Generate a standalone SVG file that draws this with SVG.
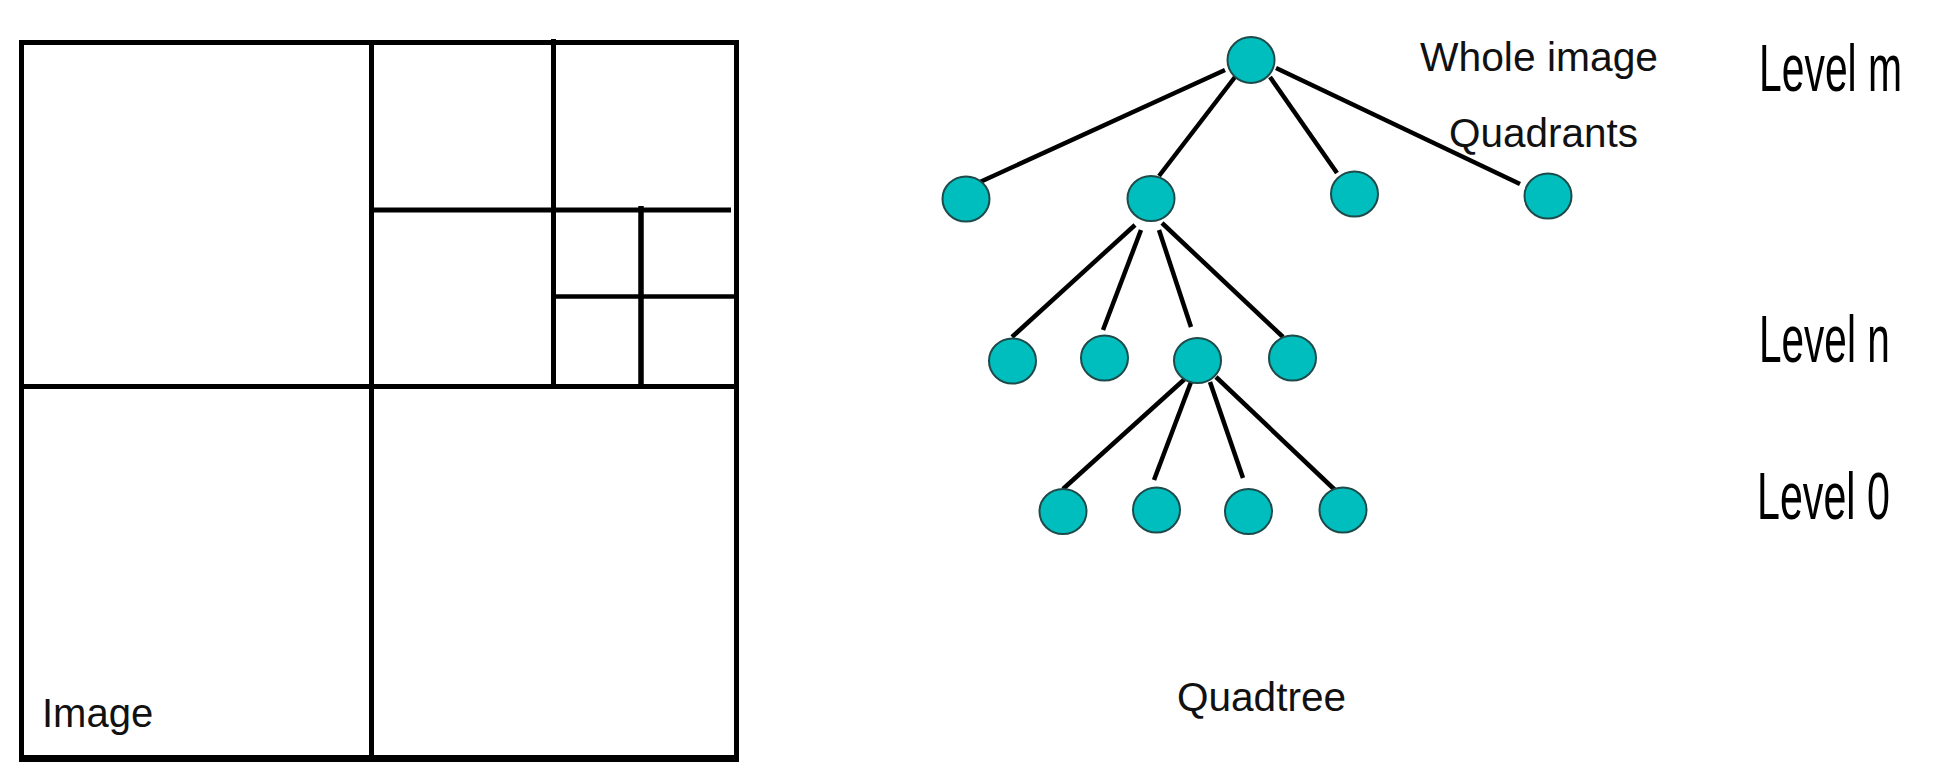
<svg xmlns="http://www.w3.org/2000/svg" width="1939" height="776" viewBox="0 0 1939 776">
<style>
.grid line{stroke:#000;stroke-width:5;stroke-linecap:butt}
.edge{stroke:#000;stroke-width:4.5;stroke-linecap:butt}
.node ellipse{fill:#00BEBE;stroke:#1E4A4A;stroke-width:2}
.t{font-family:"Liberation Sans",Arial,sans-serif;font-size:40px;fill:#111}
.lv{font-family:"Liberation Sans",Arial,sans-serif;font-size:67px;fill:#000}
</style>
<rect width="1939" height="776" fill="#fff"/>
<g id="image-grid" class="grid">
<line x1="21.5" y1="40" x2="21.5" y2="762"/>
<line x1="19" y1="42.5" x2="739" y2="42.5"/>
<line x1="736.5" y1="40" x2="736.5" y2="762"/>
<line x1="19" y1="758.5" x2="739" y2="758.5" style="stroke-width:7"/>
<line x1="371.5" y1="42.5" x2="371.5" y2="757"/>
<line x1="21.5" y1="386.5" x2="736.5" y2="386.5"/>
<line x1="371.5" y1="210" x2="731" y2="210"/>
<line x1="553.5" y1="39" x2="553.5" y2="386.5"/>
<line x1="641" y1="206" x2="641" y2="386.5" style="stroke-width:5.5"/>
<line x1="553.5" y1="296.5" x2="735" y2="296.5" style="stroke-width:4.5"/>
</g>
<text class="t" x="42" y="727">Image</text>
<g id="connectors">
<line class="edge" x1="1225" y1="70" x2="980" y2="182"/>
<line class="edge" x1="1235" y1="77" x2="1159" y2="176"/>
<line class="edge" x1="1270" y1="77" x2="1337" y2="173"/>
<line class="edge" x1="1276" y1="68" x2="1520" y2="184"/>
<line class="edge" x1="1135" y1="225" x2="1012" y2="337"/>
<line class="edge" x1="1141" y1="230" x2="1103" y2="330"/>
<line class="edge" x1="1159" y1="230" x2="1191" y2="327"/>
<line class="edge" x1="1162" y1="223" x2="1283" y2="337"/>
<line class="edge" x1="1187" y1="377" x2="1063" y2="489"/>
<line class="edge" x1="1191" y1="382" x2="1154" y2="480"/>
<line class="edge" x1="1210" y1="382" x2="1243" y2="478"/>
<line class="edge" x1="1216" y1="377" x2="1335" y2="490"/>
</g>
<g id="root" class="node"><ellipse cx="1251" cy="60" rx="23.5" ry="23"/></g>
<g id="q1" class="node"><ellipse cx="966" cy="199" rx="23.5" ry="22.5"/></g>
<g id="q2" class="node"><ellipse cx="1151" cy="198.5" rx="23.5" ry="22.5"/></g>
<g id="q3" class="node"><ellipse cx="1354.5" cy="194" rx="23.5" ry="22.5"/></g>
<g id="q4" class="node"><ellipse cx="1548" cy="196" rx="23.5" ry="22.5"/></g>
<g id="n1" class="node"><ellipse cx="1012.5" cy="361" rx="23.5" ry="22.5"/></g>
<g id="n2" class="node"><ellipse cx="1104.5" cy="358" rx="23.5" ry="22.5"/></g>
<g id="n3" class="node"><ellipse cx="1197.5" cy="360.5" rx="23.5" ry="22.5"/></g>
<g id="n4" class="node"><ellipse cx="1292.5" cy="358" rx="23.5" ry="22.5"/></g>
<g id="l1" class="node"><ellipse cx="1063" cy="511.5" rx="23.5" ry="22.5"/></g>
<g id="l2" class="node"><ellipse cx="1156.5" cy="510" rx="23.5" ry="22.5"/></g>
<g id="l3" class="node"><ellipse cx="1248.5" cy="511.5" rx="23.5" ry="22.5"/></g>
<g id="l4" class="node"><ellipse cx="1343" cy="510" rx="23.5" ry="22.5"/></g>
<text class="t" x="1420" y="71" textLength="238" lengthAdjust="spacingAndGlyphs">Whole image</text>
<text class="t" x="1449" y="147" textLength="189" lengthAdjust="spacingAndGlyphs">Quadrants</text>
<text class="t" x="1177" y="711" textLength="169" lengthAdjust="spacingAndGlyphs">Quadtree</text>
<text class="lv" transform="translate(1759,91) scale(0.61,1)">Level m</text>
<text class="lv" transform="translate(1759,362) scale(0.605,1)">Level n</text>
<text class="lv" transform="translate(1757,519) scale(0.615,1)">Level 0</text>
</svg>
